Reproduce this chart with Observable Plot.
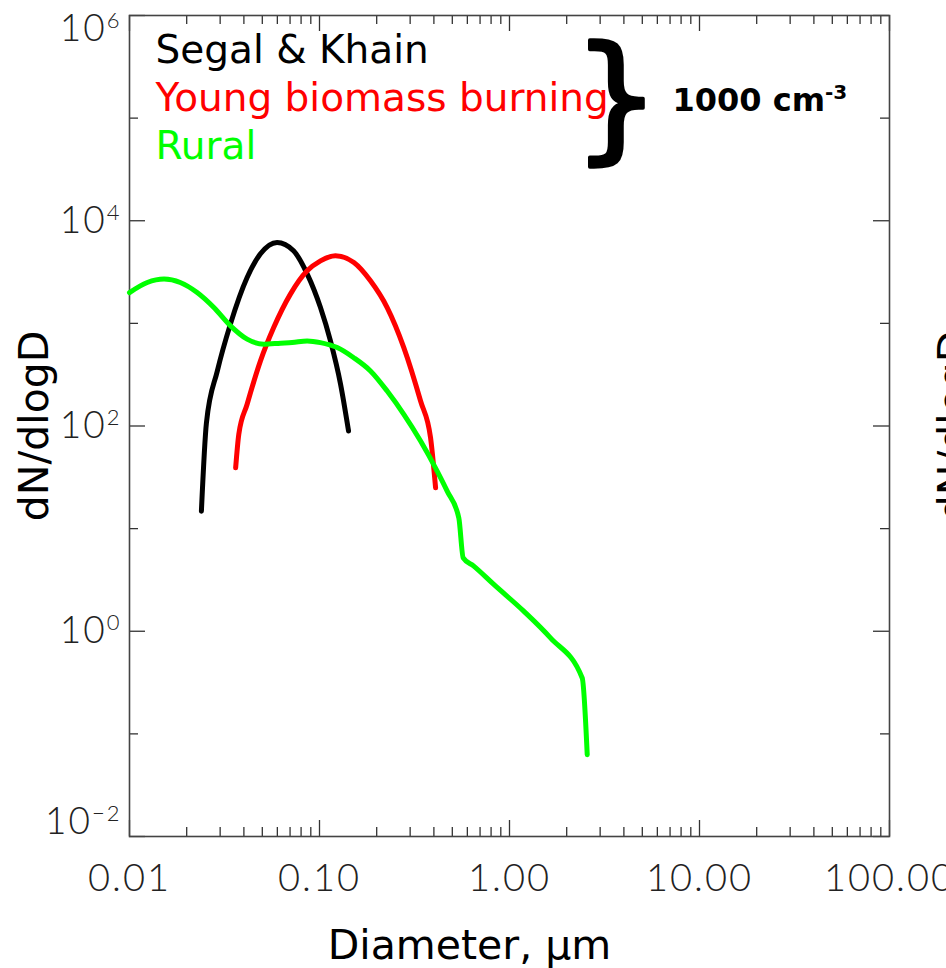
<!DOCTYPE html>
<html><head><meta charset="utf-8">
<script src="https://cdn.jsdelivr.net/npm/d3@7"></script>
<script src="https://cdn.jsdelivr.net/npm/@observablehq/plot@0.6"></script>
<style>html,body{margin:0;padding:0;background:#fff}</style>
</head><body><div id="chart"></div>
<script>
const seriesNames = ["Segal & Khain", "Young biomass burning", "Rural"];
const seriesColors = ["#000000", "#ff0000", "#00ff00"];

const segalD = [0.0239, 0.0254, 0.0290, 0.0340, 0.0416, 0.0489, 0.0598, 0.0730, 0.0861, 0.1012, 0.1142, 0.1290, 0.1422];
const segalN = [14.8, 107, 344, 989, 2800, 4760, 6140, 5100, 3040, 1426, 675, 257, 89.4];

const biomassD = [0.0362, 0.0376, 0.0416, 0.0489, 0.0574, 0.0703, 0.0861, 0.1012, 0.1213, 0.1517, 0.1855, 0.2271, 0.2778, 0.3404, 0.3841, 0.4083];
const biomassN = [39.2, 83, 163, 431, 910, 1928, 3250, 4070, 4560, 3920, 2600, 1426, 581, 175, 76.9, 25.0];

const ruralD = [0.0100, 0.0124, 0.0152, 0.0185, 0.0227, 0.0278, 0.0340, 0.0416, 0.0509, 0.0624, 0.0718, 0.0861, 0.1012, 0.1239, 0.1514, 0.1855, 0.2271, 0.2778, 0.3404, 0.4161, 0.4699, 0.5411, 0.5706, 0.6486, 0.8265, 1.188, 1.643, 2.414, 2.565];
const ruralN = [1995, 2500, 2700, 2500, 1995, 1426, 946, 702, 627, 641, 650, 675, 650, 581, 463, 344, 219, 130, 71.4, 36.4, 23.2, 12.7, 5.19, 4.31, 2.86, 1.57, 0.861, 0.350, 0.0627];

const xTickValues = [0.01, 0.1, 1, 10, 100];
const xTickLabels = ["0.01", "0.10", "1.00", "10.00", "100.00"];
const yTickValues = [1e-2, 1e0, 1e2, 1e4, 1e6];
const yTickBase = "10";
const yTickExponents = ["\u22122", "0", "2", "4", "6"];
const yOddDecades = [1e-1, 1e1, 1e3, 1e5];
const xTitle = "Diameter, \u03BCm";
const yTitle = "dN/dlogD";
const annotationBase = "1000 cm";
const annotationExp = "-3";
const brace = "}";

const xMinor = [0.01, 0.1, 1, 10].flatMap(d => [2,3,4,5,6,7,8,9].map(k => d * k));

const rows = [
  ...segalD.map((d, i) => ({D: d, N: segalN[i], s: seriesNames[0]})),
  ...biomassD.map((d, i) => ({D: d, N: biomassN[i], s: seriesNames[1]})),
  ...ruralD.map((d, i) => ({D: d, N: ruralN[i], s: seriesNames[2]}))
];

const W = 946, H = 968, mL = 129, mR = 57, mT = 15, mB = 132;
const iw = W - mL - mR, ih = H - mT - mB;
const tickStroke = "#333";
const thinFont = "Lato, 'Open Sans', sans-serif";
const mainFont = "'DejaVu Sans', Verdana, sans-serif";

const yLab = (idx, dy) => Plot.text(idx, {y: i => yTickValues[i], text: i => yTickBase + "|" + yTickExponents[i],
  frameAnchor: "left", dx: -8, dy, textAnchor: "end", lineAnchor: "middle", fontSize: 37, fontWeight: 300,
  fontFamily: thinFont, fill: "#222"});

const chart = Plot.plot({
  width: W, height: H,
  marginLeft: mL, marginRight: mR, marginTop: mT, marginBottom: mB,
  x: {type: "log", domain: [0.01, 100], axis: null},
  y: {type: "log", domain: [1e-2, 1e6], axis: null},
  color: {domain: seriesNames, range: seriesColors},
  style: {background: "#fff", fontFamily: mainFont, overflow: "visible"},
  marks: [
    Plot.tickX(xTickValues, {x: d => d, insetTop: ih - 16, stroke: tickStroke, strokeWidth: 1.3}),
    Plot.tickX(xMinor, {x: d => d, insetTop: ih - 9, stroke: tickStroke, strokeWidth: 1.3}),
    Plot.tickX(xTickValues, {x: d => d, insetBottom: ih - 16, stroke: tickStroke, strokeWidth: 1.3}),
    Plot.tickX(xMinor, {x: d => d, insetBottom: ih - 9, stroke: tickStroke, strokeWidth: 1.3}),
    Plot.tickY(yTickValues, {y: d => d, insetRight: iw - 16, stroke: tickStroke, strokeWidth: 1.3}),
    Plot.tickY(yOddDecades, {y: d => d, insetRight: iw - 9, stroke: tickStroke, strokeWidth: 1.3}),
    Plot.tickY(yTickValues, {y: d => d, insetLeft: iw - 16, stroke: tickStroke, strokeWidth: 1.3}),
    Plot.tickY(yOddDecades, {y: d => d, insetLeft: iw - 9, stroke: tickStroke, strokeWidth: 1.3}),
    Plot.frame({stroke: "#444", strokeWidth: 1.6}),
    Plot.line(rows, {x: "D", y: "N", z: "s", stroke: "s", strokeWidth: 5, curve: "monotone-x"}),
    Plot.text(xTickValues, {x: d => d, text: (d, i) => xTickLabels[i], frameAnchor: "bottom", dy: 54,
      lineAnchor: "bottom", fontSize: 38, fontWeight: 300, fontFamily: thinFont, fill: "#222",
      textAnchor: "middle"}),
    yLab([1, 2, 3], 0),
    yLab([4], 14),
    yLab([0], -14),
    ...seriesNames.map((name, i) => Plot.text([name], {frameAnchor: "top-left", dx: 26, dy: 47 + i * 48,
      text: d => d, textAnchor: "start", lineAnchor: "bottom", fill: seriesColors[i], fontSize: 39,
      fontFamily: mainFont})),
    Plot.text([brace], {frameAnchor: "top-left", dx: 443, dy: 128, text: d => d, textAnchor: "start",
      lineAnchor: "bottom", fontSize: 138, fill: "#000", stroke: "#000", strokeWidth: 3.5, fontFamily: mainFont}),
    Plot.text([annotationBase + "|" + annotationExp], {frameAnchor: "top-left", dx: 543, dy: 95, text: d => d,
      textAnchor: "start", lineAnchor: "bottom", fontSize: 32, fontWeight: "bold", fill: "#000",
      fontFamily: mainFont}),
    Plot.text([xTitle], {frameAnchor: "bottom", dx: -40, dy: 122, text: d => d, lineAnchor: "bottom",
      textAnchor: "middle", fontSize: 41, fill: "#000", fontFamily: mainFont}),
    Plot.text([yTitle], {frameAnchor: "left", dx: -82, rotate: -90, text: d => d, lineAnchor: "bottom",
      textAnchor: "middle", fontSize: 41, fill: "#000", fontFamily: mainFont}),
    Plot.text([yTitle], {frameAnchor: "right", dx: 77, rotate: -90, text: d => d, lineAnchor: "bottom",
      textAnchor: "middle", fontSize: 41, fill: "#000", fontFamily: mainFont})
  ]
});

// turn "base|exp" texts into a base with a raised exponent
const svg = d3.select(chart);
svg.selectAll("text").each(function() {
  const s = this.textContent;
  if (!s || s.indexOf("|") < 0) return;
  const [base, exp] = s.split("|");
  const isAxis = base === yTickBase;
  const t = d3.select(this);
  t.text(null);
  if (isAxis) t.style("letter-spacing", "2px");
  t.append("tspan").text(base);
  t.append("tspan").attr("font-size", isAxis ? 22 : 20).attr("dy", isAxis ? -13 : -12).text(exp);
});
svg.selectAll("text").filter(function() { return xTickLabels.includes(this.textContent); })
  .style("letter-spacing", "2px");
document.getElementById("chart").append(chart);
</script>
</body></html>
